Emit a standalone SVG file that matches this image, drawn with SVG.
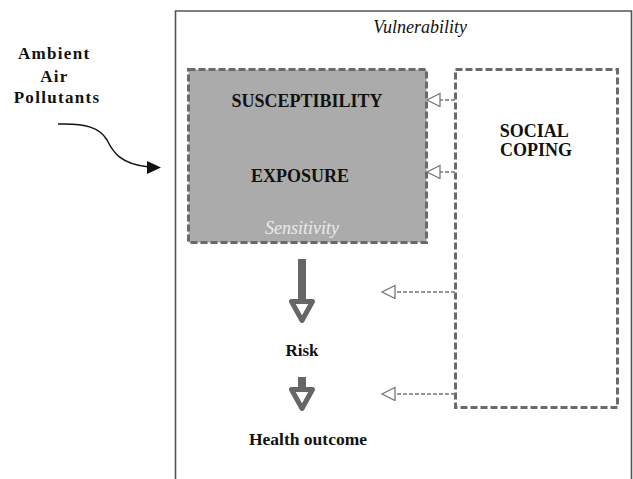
<svg xmlns="http://www.w3.org/2000/svg" width="633" height="479" viewBox="0 0 633 479">
  <style>
    .t { font-family: "Liberation Serif", "Times New Roman", serif; font-weight: bold; fill: #111; }
    .it { font-family: "Liberation Serif", "Times New Roman", serif; font-style: italic; }
    .dbox { stroke: #6a6a6a; stroke-width: 3; stroke-dasharray: 7 3; }
    .conn { stroke: #777; stroke-width: 1.5; stroke-dasharray: 4 2; fill: none; }
    .shaft { fill: #666; }
    .head { fill: #fff; stroke: #666; stroke-width: 5; stroke-linejoin: round; }
  </style>
  <defs>
    <marker id="open" markerUnits="userSpaceOnUse" markerWidth="16" markerHeight="16" refX="14" refY="7" orient="auto">
      <path d="M1,0.5 L14,7 L1,13.5 Z" fill="#fff" stroke="#777" stroke-width="1.3"/>
    </marker>
  </defs>
  <rect width="633" height="479" fill="#fff"/>

  <g id="vulnerability">
    <path d="M175.5,490 L175.5,11 L631.5,11 L631.5,490" fill="none" stroke="#555" stroke-width="1.6"/>
    <text class="it" x="467" y="33" font-size="18" text-anchor="end" fill="#111">Vulnerability</text>
  </g>

  <g id="ambient">
    <text class="t" font-size="17" letter-spacing="1.3" text-anchor="middle">
      <tspan x="57" y="59">Ambient</tspan>
      <tspan x="57" y="82">Air</tspan>
      <tspan x="57" y="103">Pollutants</tspan>
    </text>
  </g>

  <g id="sensitivity">
    <rect class="dbox" x="188.5" y="69.5" width="238" height="173" fill="#ababab"/>
    <text class="t" x="307" y="107" font-size="18" text-anchor="middle">SUSCEPTIBILITY</text>
    <text class="t" x="300" y="182" font-size="18" text-anchor="middle">EXPOSURE</text>
    <text class="it" x="302" y="234" font-size="18" text-anchor="middle" fill="#ececec">Sensitivity</text>
  </g>

  <g id="social-coping">
    <rect class="dbox" x="455.5" y="69.5" width="162" height="338" fill="#fff"/>
    <text class="t" font-size="18" text-anchor="middle">
      <tspan x="536" y="137">SOCIAL</tspan>
      <tspan x="536" y="156">COPING</tspan>
    </text>
  </g>

  <g id="risk">
    <text class="t" x="302" y="356" font-size="17" text-anchor="middle">Risk</text>
  </g>

  <g id="health-outcome">
    <text class="t" x="308" y="445" font-size="17.5" text-anchor="middle">Health outcome</text>
  </g>

  <g id="connectors">
    <path d="M58,124 C86,123 100,128 107,140 C113,152 120,164 149,167" fill="none" stroke="#111" stroke-width="1.5"/>
    <path d="M147,161 L161,167.5 L147,174 Z" fill="#111"/>

    <rect class="shaft" x="298" y="259" width="8" height="43"/>
    <path class="head" d="M291.5,301.5 L312.5,301.5 L302,320.5 Z"/>
    <rect class="shaft" x="298" y="377" width="8" height="11"/>
    <path class="head" d="M291.5,389.5 L312.5,389.5 L302,408.5 Z"/>

    <line class="conn" x1="455" y1="100" x2="427" y2="100" marker-end="url(#open)"/>
    <line class="conn" x1="455" y1="172" x2="427" y2="172" marker-end="url(#open)"/>
    <line class="conn" x1="455" y1="292" x2="382" y2="292" marker-end="url(#open)"/>
    <line class="conn" x1="455" y1="394" x2="382" y2="394" marker-end="url(#open)"/>
  </g>
</svg>
